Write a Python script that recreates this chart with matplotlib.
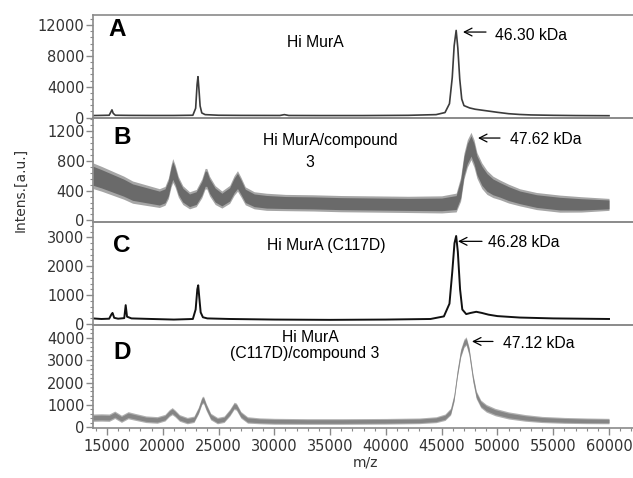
import matplotlib
matplotlib.use("Agg")
import matplotlib.pyplot as plt
from matplotlib.ticker import MultipleLocator, AutoMinorLocator
import numpy as np

# ---------------- data ----------------
# Panel A: Hi MurA
A_mz = [13750, 14500, 15200, 15380, 15450, 15560, 15750, 17000, 19000, 21000, 22700,
        22950, 23080, 23160, 23250, 23350, 23500, 23800, 25000, 27000, 30500, 30900,
        31300, 34000, 38000, 42000, 44500, 45300, 45700, 45950, 46120, 46300, 46450,
        46620, 46800, 47000, 47500, 48000, 49000, 50000, 51000, 52000, 53000, 55000,
        57000, 60000]
A_int = [260, 280, 300, 800, 1000, 550, 300, 280, 270, 270, 300,
         1200, 4300, 5300, 3600, 1500, 600, 380, 300, 280, 270, 380,
         270, 260, 260, 290, 380, 650, 1800, 5200, 9300, 11300, 9000,
         5000, 2400, 1550, 1250, 1080, 880, 680, 500, 400, 340, 290,
         260, 240]

# Panel B: Hi MurA/compound 3 (noisy band: centre and half width)
B_mz = [13750, 14500, 15500, 16500, 17300, 18500, 19700, 20200, 20500, 20750, 20900,
        21100, 21400, 21800, 22400, 23000, 23500, 23800, 23950, 24200, 24700, 25300,
        26000, 26400, 26700, 27000, 27400, 28200, 29300, 31000, 33500, 36000, 39000,
        42000, 45000, 46300, 46700, 47000, 47300, 47630, 47900, 48160, 48600, 49060,
        49600, 50230, 51000, 52000, 53500, 55600, 57500, 60000]
B_mid = [600, 560, 500, 440, 380, 340, 300, 330, 430, 600, 670,
         600, 450, 340, 270, 300, 430, 560, 560, 460, 340, 280,
         350, 470, 530, 450, 330, 270, 250, 240, 235, 225, 220,
         215, 215, 240, 420, 730, 900, 1000, 900, 740, 600, 510,
         450, 410, 360, 310, 260, 225, 215, 215]
B_hw = [150, 145, 140, 135, 130, 120, 110, 110, 120, 130, 140,
        130, 120, 110, 100, 100, 110, 120, 120, 115, 110, 100,
        105, 115, 120, 115, 105, 100, 100, 95, 95, 95, 95,
        95, 100, 110, 140, 150, 160, 160, 160, 150, 150, 140,
        125, 115, 110, 100, 100, 100, 90, 70]

# Panel C: Hi MurA (C117D)
C_mz = [13750, 14500, 15200, 15400, 15500, 15650, 16000, 16550, 16680, 16800, 17200,
        19000, 21000, 22700, 22950, 23100, 23180, 23280, 23400, 23600, 24000, 26000,
        30000, 35000, 40000, 44000, 45200, 45700, 45950, 46150, 46300, 46450, 46650,
        46850, 47200, 47600, 48100, 48600, 49200, 50000, 52000, 55000, 60000]
C_int = [190, 170, 180, 330, 380, 210, 180, 200, 650, 250, 190,
         170, 150, 170, 500, 1200, 1340, 900, 400, 230, 190, 170,
         150, 140, 150, 170, 260, 700, 1800, 2800, 3050, 2500, 1200,
         500, 340, 380, 420, 380, 320, 270, 220, 190, 170]

# Panel D: Hi MurA (C117D)/compound 3 (band: centre and half width)
D_mz = [13750, 14500, 15200, 15700, 16300, 16900, 17500, 18500, 19500, 20200, 20600,
        20850, 21100, 21500, 22200, 22800, 23200, 23500, 23650, 23900, 24300, 24900,
        25500, 26000, 26400, 26600, 27000, 27600, 28700, 30000, 33000, 36000, 40000,
        43000, 44500, 45300, 45800, 46100, 46400, 46700, 47000, 47200, 47450, 47800,
        48100, 48500, 49000, 49800, 51000, 52500, 54000, 56000, 58000, 60000]
D_mid = [430, 440, 430, 560, 380, 540, 470, 360, 330, 430, 640,
         720, 620, 420, 300, 360, 750, 1180, 1230, 900, 480, 300,
         360, 650, 960, 920, 560, 330, 290, 270, 260, 260, 270,
         290, 340, 450, 700, 1300, 2400, 3300, 3750, 3850, 3400, 2200,
         1450, 1050, 850, 680, 530, 420, 350, 310, 290, 280]
D_hw = [150, 150, 150, 150, 145, 145, 140, 135, 135, 135, 140,
        145, 140, 135, 130, 130, 140, 150, 150, 145, 135, 130,
        130, 140, 145, 145, 135, 130, 120, 120, 115, 115, 115,
        115, 120, 130, 140, 150, 160, 170, 170, 170, 170, 165,
        160, 155, 155, 150, 145, 135, 125, 120, 115, 110]

panel_letters = ["A", "B", "C", "D"]
panel_titles = [["Hi MurA"], ["Hi MurA/compound", "3"], ["Hi MurA (C117D)"],
                ["Hi MurA", "(C117D)/compound 3"]]
peak_labels = ["46.30 kDa", "47.62 kDa", "46.28 kDa", "47.12 kDa"]
ylims = [(-90, 13300), (-15, 1373), (-30, 3552), (-30, 4577)]
ymajor = [4000, 400, 1000, 1000]
xlim = (13750, 62150)
xticks = [15000, 20000, 25000, 30000, 35000, 40000, 45000, 50000, 55000, 60000]

# ---------------- layout ----------------
W, H = 633, 478
fig = plt.figure(figsize=(W / 100, H / 100), dpi=100)
left, right = 93 / W, 1.0
top, bottom = 1 - 15 / H, 1 - 428 / H
ph = (top - bottom) / 4
axes = [fig.add_axes([left, top - (i + 1) * ph, right - left, ph]) for i in range(4)]

tick_col = "#333333"
spine_col = "#8a8a8a"
afont = "Liberation Sans"

for i, ax in enumerate(axes):
    ax.set_xlim(*xlim)
    ax.set_ylim(*ylims[i])
    ax.yaxis.set_major_locator(MultipleLocator(ymajor[i]))
    ax.yaxis.set_minor_locator(AutoMinorLocator(5))
    ax.set_xticks(xticks)
    ax.xaxis.set_minor_locator(MultipleLocator(1000))
    for s in ["top", "bottom", "left"]:
        ax.spines[s].set_color(spine_col)
        ax.spines[s].set_linewidth(1.2)
    ax.spines["right"].set_visible(False)
    ax.tick_params(axis="y", which="major", direction="out", length=5, width=1,
                   color=spine_col, labelsize=10.5, labelcolor=tick_col, pad=1)
    ax.tick_params(axis="y", which="minor", direction="out", length=2, width=0.8,
                   color=spine_col)
    if i < 3:
        ax.tick_params(axis="x", which="both", bottom=False, labelbottom=False)
    else:
        ax.tick_params(axis="x", which="major", direction="out", length=5, width=1,
                       color=spine_col, labelsize=10.5, labelcolor=tick_col, pad=3)
        ax.tick_params(axis="x", which="minor", direction="out", length=2, width=0.8,
                       color=spine_col)
    ax.patch.set_visible(False)

# traces
axes[0].plot(A_mz, A_int, color="#3c3c3c", lw=1.2)

bm, bh = np.array(B_mid), np.array(B_hw)
axes[1].fill_between(B_mz, bm - bh * 1.15, bm + bh * 1.15, color="#a6a6a6", lw=0)
axes[1].fill_between(B_mz, bm - bh * 0.85, bm + bh * 0.85, color="#6a6a6a", lw=0)

axes[2].plot(C_mz, C_int, color="#111111", lw=1.4)

dm, dh = np.array(D_mid), np.array(D_hw)
axes[3].fill_between(D_mz, dm - dh * 1.1, dm + dh * 1.1, color="#b0b0b0", lw=0)
axes[3].fill_between(D_mz, dm - dh * 0.7, dm + dh * 0.7, color="#858585", lw=0)

# panel letters
letter_pos = [(15090, 11410), (15540, 1120), (15540, 2725), (15540, 3343)]
for ax, lt, (x, y) in zip(axes, panel_letters, letter_pos):
    ax.text(x, y, lt, fontsize=17.5, fontweight="bold", family=afont,
            ha="left", va="center", color="black")

# panel titles
title_pos = [[(33645, 9790)], [(34990, 1080), (33200, 773)], [(34630, 2725)],
             [(33200, 4014), (32750, 3300)]]
for ax, lines, poss in zip(axes, panel_titles, title_pos):
    for t, (x, y) in zip(lines, poss):
        ax.text(x, y, t, fontsize=11.3, family=afont, ha="center", va="center",
                color="black")

# peak arrows and labels
arrows = [((46912, 11090), (48974, 11090), (49780, 10700)),
          ((48256, 1107), (50228, 1107), (51125, 1093)),
          ((46464, 2864), (48615, 2864), (49153, 2829)),
          ((47719, 3832), (49601, 3832), (50497, 3743))]
for ax, lab, (head, tail, tpos) in zip(axes, peak_labels, arrows):
    ax.annotate("", xy=head, xytext=tail,
                arrowprops=dict(arrowstyle="->,head_length=0.55,head_width=0.28",
                                lw=0.9, color="black", shrinkA=0, shrinkB=0))
    ax.text(tpos[0], tpos[1], lab, fontsize=11.3, family=afont, ha="left",
            va="center", color="black")

fig.text(20 / W, 1 - 190 / H, "Intens.[a.u.]", rotation=90, ha="center", va="center",
         fontsize=10, color=tick_col)
fig.text(365 / W, 1 - 463 / H, "m/z", ha="center", va="center", fontsize=10,
         color=tick_col)

fig.savefig("out.png", dpi=100)
